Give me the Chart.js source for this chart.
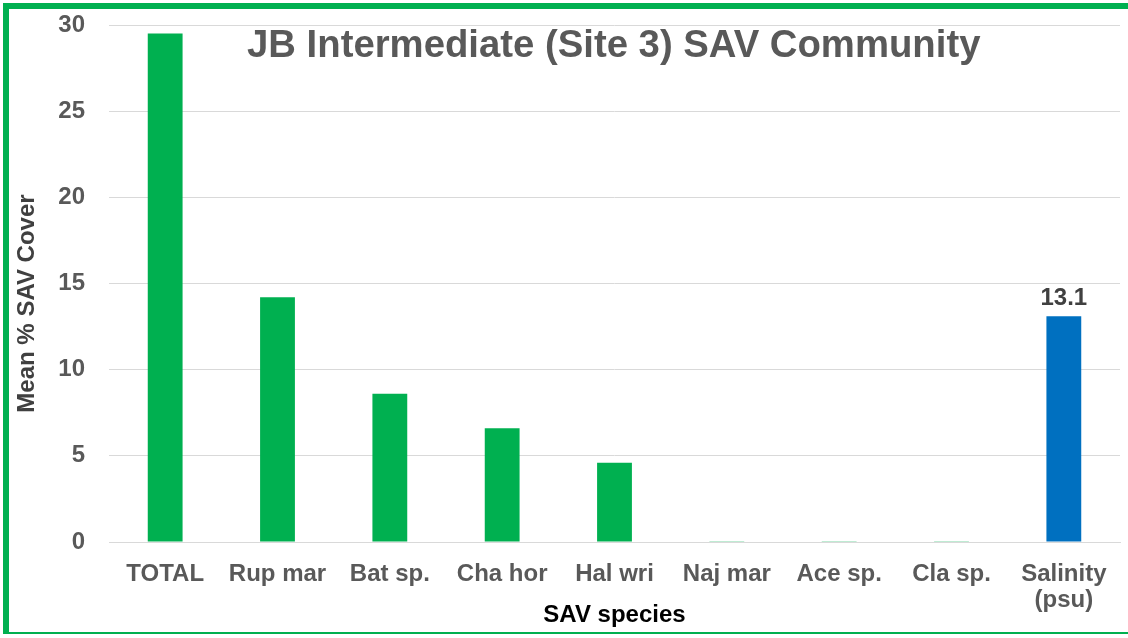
<!DOCTYPE html>
<html>
<head>
<meta charset="utf-8">
<script src="https://cdn.jsdelivr.net/npm/chart.js@4.4.1/dist/chart.umd.min.js"></script>
<style>
html,body{margin:0;padding:0;background:#fff;width:1128px;height:638px;overflow:hidden;}
#wrap{position:absolute;left:0;top:0;width:1128px;height:638px;}
#frame{position:absolute;left:3px;top:3px;width:1125px;height:631px;border-left:6px solid #00B050;border-top:6px solid #00B050;border-bottom:2px solid #00B050;box-sizing:border-box;pointer-events:none;}
</style>
</head>
<body>
<div id="wrap"><canvas id="c" width="1128" height="638"></canvas><div id="frame"></div></div>
<script>
const categories = ['TOTAL','Rup mar','Bat sp.','Cha hor','Hal wri','Naj mar','Ace sp.','Cla sp.',['Salinity','(psu)']];
const coverValues = [29.5, 14.2, 8.6, 6.6, 4.6, 0.05, 0.05, 0.05, 13.1];
const barColors = ['#00B050','#00B050','#00B050','#00B050','#00B050','#00B050','#00B050','#00B050','#0070C0'];
const yTicks = [0,5,10,15,20,25,30];
const labelIndex = 8;
const chartTitle = 'JB Intermediate (Site 3) SAV Community';
const FONT = '"Liberation Sans", Arial, sans-serif';

const overlay = {
  id:'overlay',
  afterDatasetsDraw(chart){
    const ctx = chart.ctx;
    ctx.save();
    ctx.font = 'bold 38.3px ' + FONT;
    ctx.fillStyle = '#595959';
    ctx.textAlign = 'left';
    ctx.textBaseline = 'alphabetic';
    ctx.fillText(chartTitle, 247, 57);
    const el = chart.getDatasetMeta(0).data[labelIndex];
    ctx.font = 'bold 24px ' + FONT;
    ctx.fillStyle = '#404040';
    ctx.textAlign = 'center';
    ctx.fillText(coverValues[labelIndex].toFixed(1), el.x, el.y - 11);
    ctx.restore();
  }
};

new Chart(document.getElementById('c'), {
  type:'bar',
  data:{labels:categories, datasets:[{data:coverValues, backgroundColor:barColors, barPercentage:0.31, categoryPercentage:1.0}]},
  options:{
    responsive:false, animation:false,
    layout:{padding:{left:9,right:8,top:25,bottom:8}},
    plugins:{legend:{display:false}, tooltip:{enabled:false}, title:{display:false}},
    scales:{
      x:{
        afterFit(s){ s.height = 88; s.paddingLeft = 0; s.paddingRight = 0; },
        grid:{display:false, drawTicks:false},
        border:{display:true, color:'#d9d9d9', width:1},
        ticks:{color:'#595959', font:{family:FONT, size:24, weight:'bold', lineHeight:1.1}, padding:19, maxRotation:0, autoSkip:false},
        title:{display:true, text:'SAV species', color:'#000000', font:{family:FONT, size:24, weight:'bold'}, padding:{top:0,bottom:0}}
      },
      y:{
        min:0, max:30,
        afterBuildTicks(s){ s.ticks = yTicks.map(v=>({value:v})); },
        afterFit(s){ s.width = 100; s.paddingTop = 0; s.paddingBottom = 0; },
        grid:{color:'#d9d9d9', lineWidth:1, drawTicks:false},
        border:{display:false},
        ticks:{color:'#595959', font:{family:FONT, size:24, weight:'bold'}, padding:24},
        title:{display:true, text:'Mean % SAV Cover      ', color:'#404040', font:{family:FONT, size:24, weight:'bold'}, padding:{top:4,bottom:0}}
      }
    }
  },
  plugins:[overlay]
});
</script>
</body>
</html>
